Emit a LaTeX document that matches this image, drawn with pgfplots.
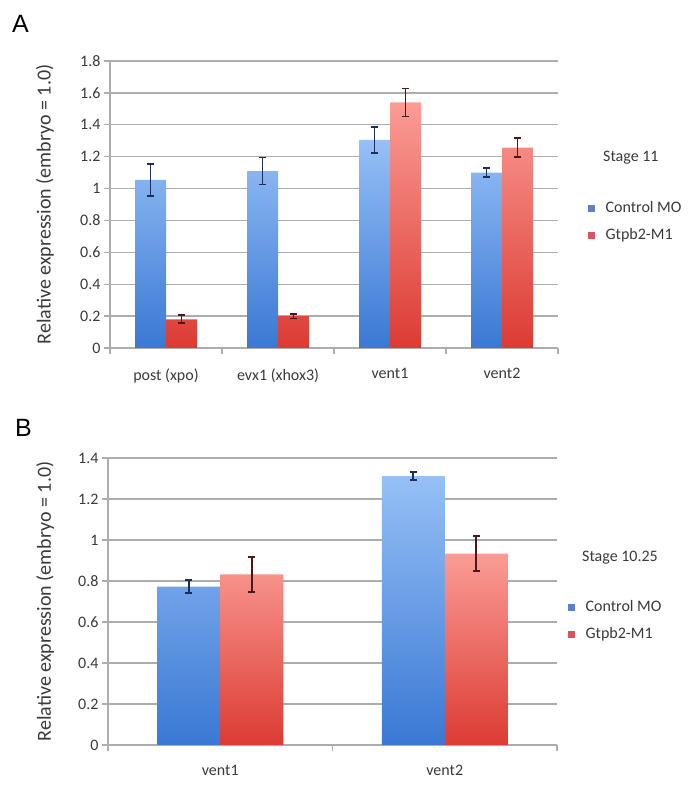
\documentclass[border=0pt]{standalone}
\usepackage{pgfplots}
\pgfplotsset{compat=1.18}
\usepackage{fontspec}
\setmainfont{Carlito}
\newfontfamily\arialfont{Liberation Sans}
\definecolor{bluetop}{HTML}{96C0F6}
\definecolor{bluebot}{HTML}{3A78D4}
\definecolor{redtop}{HTML}{FA9C95}
\definecolor{redbot}{HTML}{DC3B33}
\definecolor{gridgray}{HTML}{ADADAD}
\definecolor{txtgray}{HTML}{3A3A3A}
\definecolor{errblue}{HTML}{1C2E5C}
\definecolor{errred}{HTML}{4A1A1A}
\definecolor{legblue}{HTML}{5B82C8}
\definecolor{legred}{HTML}{D9535F}

\pgfplotsset{
  panel/.style={
    scale only axis,
    axis lines=left,
    axis line style={gridgray, line width=1.4pt, -},
    ymajorgrids,
    grid style={gridgray, line width=1.4pt},
    tick align=outside,
    major tick length=6pt,
    tick style={gridgray, line width=1.4pt},
    x tick label as interval,
    ymin=0,
    /pgf/number format/assume math mode=true,
    ticklabel style={font=\fontsize{16}{19}\selectfont, text=txtgray},
    xticklabel style={yshift=-11pt},
    every axis y label/.style={rotate=90, anchor=center, font=\fontsize{20}{23}\selectfont, text=txtgray},
    ylabel={Relative expression (embryo = 1.0)},
    legend style={draw=none, fill=none, inner sep=0pt, anchor=west,
      font=\fontsize{16}{19}\selectfont, text=txtgray,
      column sep=11pt, row sep=13pt,
      nodes={inner sep=0pt, text height=11pt, text depth=3pt}},
    legend cell align=left,
  },
  bluebars/.style 2 args={ybar, bar width=#1, bar shift=#2, draw=none, top color=bluetop, bottom color=bluebot, forget plot,
     error bars/y dir=both, error bars/y explicit,
     error bars/error bar style={draw=errblue, line width=1.8pt, xshift=#2},
     error bars/error mark options={draw=errblue, line width=1.8pt, mark size=3.5pt, rotate=90}},
  redbars/.style 2 args={ybar, bar width=#1, bar shift=#2, draw=none, top color=redtop, bottom color=redbot, forget plot,
     error bars/y dir=both, error bars/y explicit,
     error bars/error bar style={draw=errred, line width=1.8pt, xshift=#2},
     error bars/error mark options={draw=errred, line width=1.8pt, mark size=3.5pt, rotate=90}},
}

\begin{document}
\begin{tikzpicture}
\useasboundingbox (0pt,0pt) rectangle (694pt,790pt);

% ---------------- Panel A ----------------
\begin{axis}[panel,
  at={(110pt,442pt)}, anchor=south west,
  width=448pt, height=287pt,
  xmin=-0.5, xmax=3.5, ymax=1.8,
  xtick={-0.5,0.5,1.5,2.5,3.5},
  xticklabels={post (xpo), evx1 (xhox3), vent1, vent2},
  ytick={0,0.2,0.4,0.6,0.8,1,1.2,1.4,1.6,1.8},
  yticklabels={0,0.2,0.4,0.6,0.8,1,1.2,1.4,1.6,1.8},
  every axis y label/.append style={at={(axis description cs:-0.145,0.5)}},
  legend style={at={(1.067,0.439)}},
]
\addplot[bluebars={31pt}{-15.5pt}]
  coordinates {(0,1.055) +- (0,0.10) (1,1.11) +- (0,0.085) (2,1.305) +- (0,0.08) (3,1.10) +- (0,0.03)};
\addplot[redbars={31pt}{15.5pt}]
  coordinates {(0,0.18) +- (0,0.025) (1,0.20) +- (0,0.015) (2,1.54) +- (0,0.088) (3,1.256) +- (0,0.06)};
\addlegendimage{legend image code/.code={\fill[legblue] (0pt,-3pt) rectangle (6pt,3pt);}}
\addlegendentry{Control MO}
\addlegendimage{legend image code/.code={\fill[legred] (0pt,-3pt) rectangle (6pt,3pt);}}
\addlegendentry{Gtpb2-M1}
\end{axis}

% ---------------- Panel B ----------------
\begin{axis}[panel,
  at={(108pt,45pt)}, anchor=south west,
  width=449pt, height=287pt,
  xmin=-0.5, xmax=1.5, ymax=1.4,
  xtick={-0.5,0.5,1.5},
  xticklabels={vent1, vent2},
  ytick={0,0.2,0.4,0.6,0.8,1,1.2,1.4},
  yticklabels={0,0.2,0.4,0.6,0.8,1,1.2,1.4},
  every axis y label/.append style={at={(axis description cs:-0.140,0.5)}},
  legend style={at={(1.0245,0.432)}},
]
\addplot[bluebars={63pt}{-31.5pt}]
  coordinates {(0,0.772) +- (0,0.032) (1,1.311) +- (0,0.02)};
\addplot[redbars={63pt}{31.5pt}]
  coordinates {(0,0.832) +- (0,0.086) (1,0.934) +- (0,0.084)};
\addlegendimage{legend image code/.code={\fill[legblue] (0pt,-3pt) rectangle (6pt,3pt);}}
\addlegendentry{Control MO}
\addlegendimage{legend image code/.code={\fill[legred] (0pt,-3pt) rectangle (6pt,3pt);}}
\addlegendentry{Gtpb2-M1}
\end{axis}

\node[anchor=base west, inner sep=0pt, font=\arialfont\fontsize{25}{28}\selectfont] at (12pt,757pt) {A};
\node[anchor=base west, inner sep=0pt, font=\arialfont\fontsize{25}{28}\selectfont] at (15pt,353pt) {B};
\node[anchor=base west, inner sep=0pt, font=\fontsize{16}{19}\selectfont, text=txtgray] at (603pt,628pt) {Stage 11};
\node[anchor=base west, inner sep=0pt, font=\fontsize{16}{19}\selectfont, text=txtgray] at (582pt,228pt) {Stage 10.25};
\end{tikzpicture}
\end{document}
